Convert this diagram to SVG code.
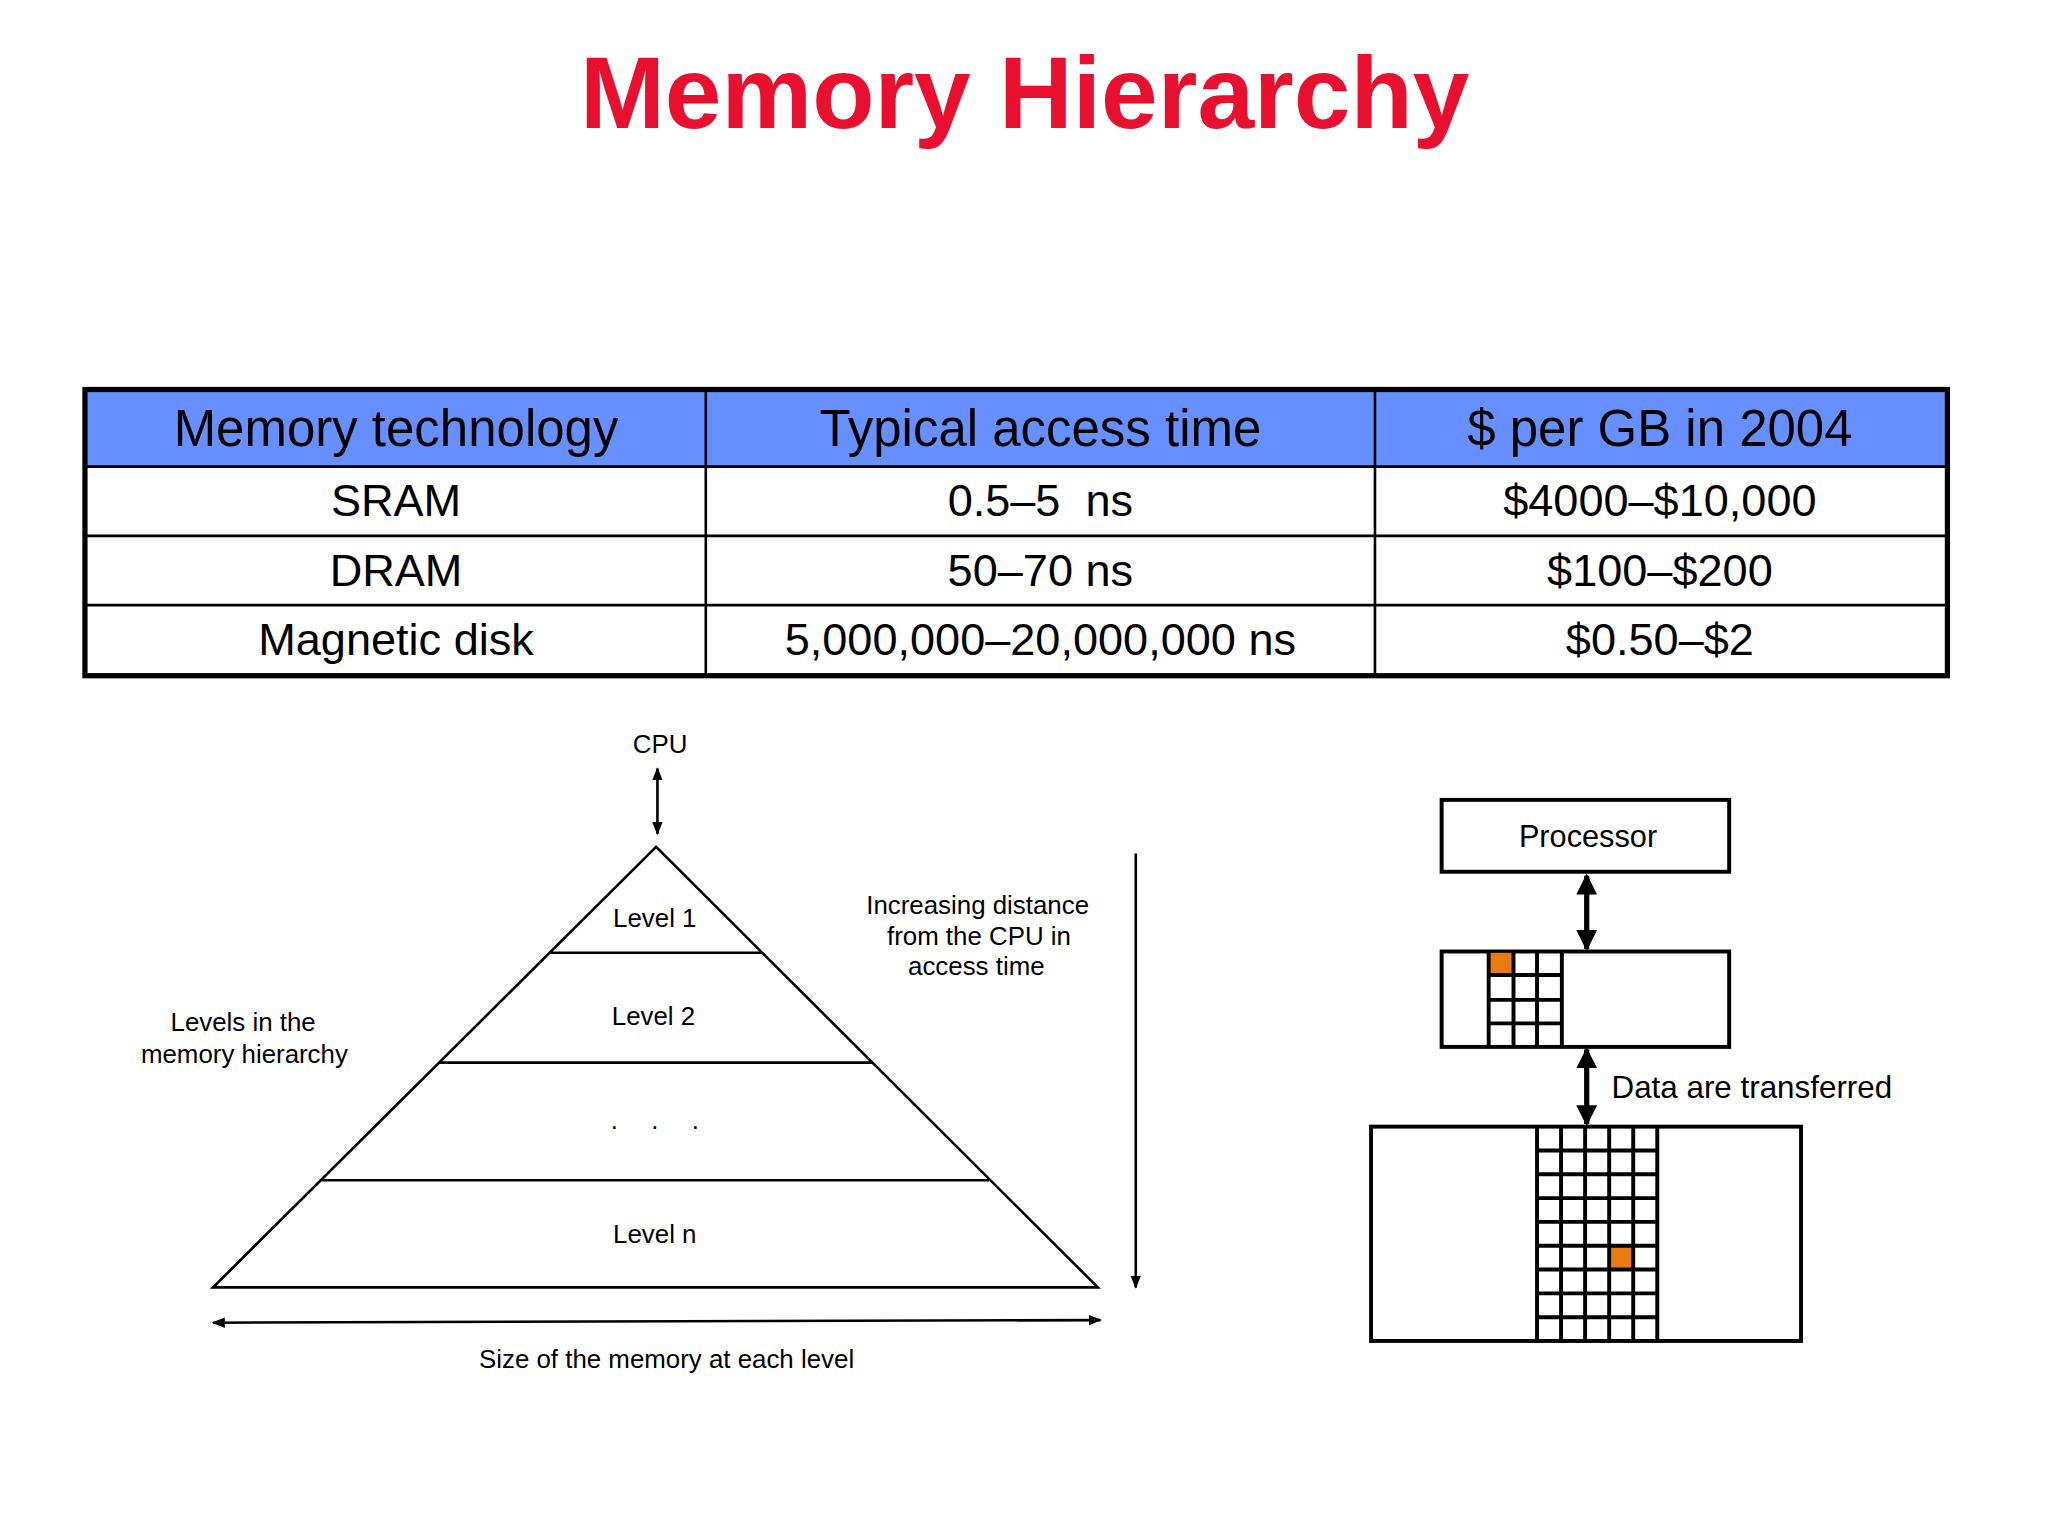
<svg xmlns="http://www.w3.org/2000/svg" width="2048" height="1536" viewBox="0 0 2048 1536">
<style>
text{font-family:"Liberation Sans",Arial,sans-serif;fill:#000}
.th{font-size:39px;text-anchor:middle}
.td{font-size:34.5px;text-anchor:middle}
.sm{font-size:19.8px;text-anchor:middle}
.ln{stroke:#000;stroke-width:2;fill:none}
.bx{stroke:#000;stroke-width:3;fill:#fff}
.g{stroke:#000;stroke-width:3;fill:none}
.thick{stroke:#000;stroke-width:4;fill:none}
</style>
<defs>
<marker id="a" viewBox="0 0 10 10" refX="9" refY="5" markerWidth="5" markerHeight="5" orient="auto-start-reverse"><path d="M0,1 L10,5 L0,9 z" fill="#000"/></marker>
<marker id="b" viewBox="0 0 10 10" refX="9" refY="5" markerWidth="4" markerHeight="4" orient="auto-start-reverse"><path d="M0,0 L10,5 L0,10 z" fill="#000"/></marker>
</defs>
<rect width="2048" height="1536" fill="#fff"/>
<g transform="scale(1.307)">
<text x="784" y="98" style="font-size:78px;font-weight:bold;fill:#E8102E;text-anchor:middle">Memory Hierarchy</text>
<g id="table">
<rect x="65" y="298" width="1425" height="59" fill="#6690FF"/>
<line x1="65" y1="357" x2="1490" y2="357" class="ln"/>
<line x1="65" y1="410" x2="1490" y2="410" class="ln"/>
<line x1="65" y1="463" x2="1490" y2="463" class="ln"/>
<line x1="540" y1="298" x2="540" y2="517" class="ln"/>
<line x1="1052" y1="298" x2="1052" y2="517" class="ln"/>
<rect x="65" y="298" width="1425" height="219" fill="none" stroke="#000" stroke-width="4"/>
<text class="th" x="303" y="341">Memory technology</text>
<text class="th" x="796" y="341">Typical access time</text>
<text class="th" x="1270" y="341">$ per GB in 2004</text>
<text class="td" x="303" y="395">SRAM</text>
<text class="td" x="796" y="395">0.5–5&#160; ns</text>
<text class="td" x="1270" y="395">$4000–$10,000</text>
<text class="td" x="303" y="448">DRAM</text>
<text class="td" x="796" y="448">50–70 ns</text>
<text class="td" x="1270" y="448">$100–$200</text>
<text class="td" x="303" y="501">Magnetic disk</text>
<text class="td" x="796" y="501">5,000,000–20,000,000 ns</text>
<text class="td" x="1270" y="501">$0.50–$2</text>
</g>
<g id="pyramid">
<path d="M502,648 L163,985 L840,985 Z" class="ln"/>
<line x1="421" y1="729" x2="583" y2="729" class="ln"/>
<line x1="336" y1="813" x2="668" y2="813" class="ln"/>
<line x1="246" y1="903" x2="757" y2="903" class="ln"/>
<text class="sm" x="501" y="709">Level 1</text>
<text class="sm" x="500" y="784">Level 2</text>
<text class="sm" x="470" y="864">.</text>
<text class="sm" x="501" y="864">.</text>
<text class="sm" x="532" y="864">.</text>
<text class="sm" x="501" y="951">Level n</text>
</g>
<g id="labels">
<text class="sm" x="505" y="576">CPU</text>
<text class="sm" x="186" y="789">Levels in the</text>
<text class="sm" x="187" y="813">memory hierarchy</text>
<text class="sm" x="748" y="699">Increasing distance</text>
<text class="sm" x="749" y="723">from the CPU in</text>
<text class="sm" x="747" y="746">access time</text>
<text class="sm" x="510" y="1047">Size of the memory at each level</text>
</g>
<g id="processor"><rect x="1103" y="612" width="220" height="55" class="bx"/><text x="1215" y="648" style="font-size:23.5px;text-anchor:middle">Processor</text></g>
<g id="cache">
<rect x="1103" y="728" width="220" height="73" class="bx"/>
<rect x="1140" y="729" width="17" height="16" fill="#E87A0E"/>
<path d="M1139,728V801M1158,728V801M1176,728V801M1195,728V801M1139,746H1195M1139,765H1195M1139,783H1195" class="g"/>
</g>
<g id="memory">
<rect x="1049" y="862" width="329" height="164" class="bx"/>
<rect x="1232" y="954" width="17" height="17" fill="#E87A0E"/>
<path d="M1176,862V1026M1194.4,862V1026M1212.8,862V1026M1231.2,862V1026M1249.6,862V1026M1268,862V1026M1176,880.2H1268M1176,898.4H1268M1176,916.7H1268M1176,934.9H1268M1176,953.1H1268M1176,971.3H1268M1176,989.6H1268M1176,1007.8H1268" class="g"/>
</g>
<text x="1233" y="840" style="font-size:24px">Data are transferred</text>
<g id="connectors">
<line x1="503" y1="588" x2="503" y2="638" class="ln" marker-start="url(#a)" marker-end="url(#a)"/>
<line x1="869" y1="653" x2="869" y2="985" class="ln" marker-end="url(#a)"/>
<line x1="163" y1="1012" x2="842" y2="1010" class="ln" marker-start="url(#a)" marker-end="url(#a)"/>
<line x1="1214" y1="670" x2="1214" y2="726" class="thick" marker-start="url(#b)" marker-end="url(#b)"/>
<line x1="1214" y1="803" x2="1214" y2="860" class="thick" marker-start="url(#b)" marker-end="url(#b)"/>
</g>
</g>
</svg>
